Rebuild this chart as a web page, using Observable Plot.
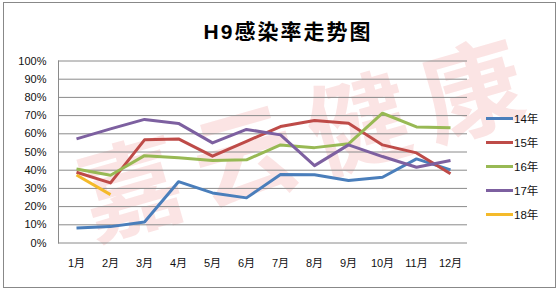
<!DOCTYPE html>
<html><head><meta charset="utf-8">
<script src="https://cdn.jsdelivr.net/npm/d3@7"></script>
<script src="https://cdn.jsdelivr.net/npm/@observablehq/plot@0.6"></script>
<style>
html,body{margin:0;padding:0;background:#fff;}
#wrap{position:relative;width:559px;height:290px;overflow:hidden;font-family:"Liberation Sans","Noto Sans CJK SC",sans-serif;}
#wm{position:absolute;left:300px;top:134px;transform:translate(-50%,-50%) rotate(-16deg);font:bold 102px "Noto Sans CJK SC",sans-serif;letter-spacing:16px;padding-left:16px;color:rgba(236,110,110,0.19);white-space:nowrap;line-height:1.1;}
#chart{position:absolute;left:0;top:0;}
#title{position:absolute;left:288px;top:30px;transform:translate(-50%,-50%);font:bold 21px "Liberation Sans","Noto Sans CJK SC",sans-serif;letter-spacing:2px;color:#000;white-space:nowrap;}
#legend{position:absolute;left:486px;top:106px;font-size:11.5px;color:#111;}
#legend .row{display:flex;align-items:center;height:24px;}
#legend .sw{width:27px;height:3px;margin-right:1px;}
#border{position:absolute;left:3px;top:2px;width:551px;height:284px;border:1px solid #888;}
</style></head>
<body><div id="wrap"><div id="wm">嘉云健康</div><div id="chart"></div><div id="title">H9感染率走势图</div><div id="legend"></div><div id="border"></div></div>
<script>
const months = ["1月","2月","3月","4月","5月","6月","7月","8月","9月","10月","11月","12月"];
const seriesNames = ["14年","15年","16年","17年","18年"];
const colors = ["#4A7EBB","#BE4B48","#98B954","#7D60A0","#F4BA2A"];
const v14 = [8.3, 9.0, 11.5, 33.7, 27.5, 24.8, 37.6, 37.5, 34.3, 36.1, 46.2, 40.2];
const v15 = [38.9, 33.0, 56.7, 57.2, 47.7, 55.9, 64.0, 67.3, 65.8, 53.9, 49.5, 38.0];
const v16 = [40.7, 37.2, 48.0, 46.8, 45.3, 45.7, 53.9, 52.4, 54.5, 71.3, 63.8, 63.3];
const v17 = [57.2, 62.7, 67.9, 65.7, 55.0, 62.4, 59.4, 42.5, 53.9, 47.5, 41.6, 45.3];
const v18 = [37.4, 26.6];
const yTicks = [0,10,20,30,40,50,60,70,80,90,100];

const allValues = [v14, v15, v16, v17, v18];
const data = [];
allValues.forEach((vals, si) => vals.forEach((v, i) => data.push({month: months[i], value: v, series: seriesNames[si]})));

const chart = Plot.plot({
  width: 559, height: 290,
  marginLeft: 58, marginRight: 92, marginTop: 60.5, marginBottom: 47.5,
  style: {background: "transparent", fontSize: "11px", fontFamily: "'Liberation Sans','Noto Sans CJK SC',sans-serif", color: "#111"},
  x: {type: "point", domain: months, padding: 0.5, label: null},
  y: {domain: [0, 100], label: null},
  color: {domain: seriesNames, range: colors},
  marks: [
    Plot.gridY(yTicks, {stroke: "#8a8a8a", strokeOpacity: 1, strokeWidth: 1}),
    Plot.axisY({ticks: yTicks, tickFormat: d => d + "%", tickSize: 0, tickPadding: 12, label: null}),
    Plot.axisX({tickSize: 0, tickPadding: 16, label: null}),
    Plot.frame({anchor: "left", stroke: "#8a8a8a", strokeOpacity: 1}),
    Plot.line(data, {x: "month", y: "value", z: "series", stroke: "series", strokeWidth: 3, strokeLinejoin: "round", strokeLinecap: "butt"})
  ]
});
document.getElementById("chart").appendChild(chart);

const legend = document.getElementById("legend");
seriesNames.forEach((n, i) => {
  const row = document.createElement("div"); row.className = "row";
  const sw = document.createElement("div"); sw.className = "sw"; sw.style.background = colors[i];
  const t = document.createElement("span"); t.textContent = n;
  row.appendChild(sw); row.appendChild(t); legend.appendChild(row);
});
</script></body></html>
